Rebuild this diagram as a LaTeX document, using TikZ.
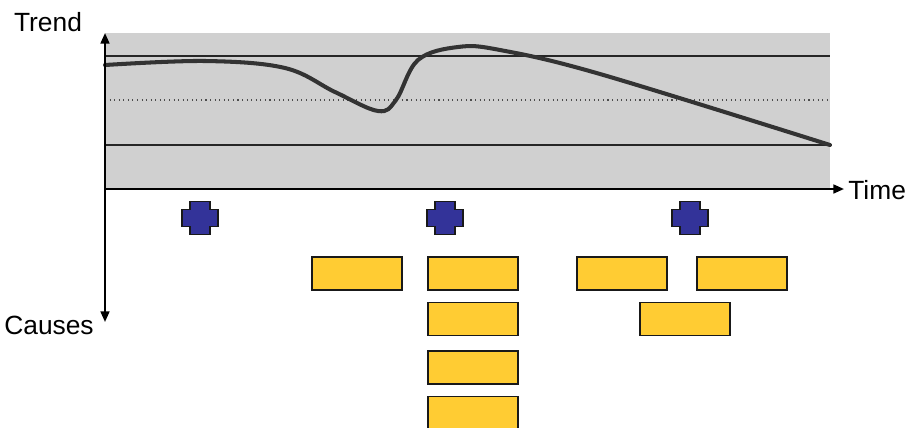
\documentclass[tikz,border=0pt]{standalone}
\usepackage{fontspec}
\setmainfont{Liberation Sans}
\usetikzlibrary{arrows.meta}

\definecolor{bandgray}{RGB}{208,208,208}
\definecolor{eventblue}{RGB}{51,51,153}
\definecolor{causeyellow}{RGB}{255,204,51}

\tikzset{
  axis/.style={line width=1.2pt, -{Triangle[length=6pt,width=5pt]}},
  trendline/.style={line width=2.3pt, black!80, line cap=round},
  cause/.style={draw=black!90, line width=0.8pt, fill=causeyellow,
    minimum width=1.8cm, minimum height=0.66cm, inner sep=0pt},
  event/.pic={
    \draw[black!90, line width=0.8pt, fill=eventblue]
      (-10,-16.5) -- (10,-16.5) -- (10,-8.5) -- (18,-8.5) -- (18,8.5)
      -- (10,8.5) -- (10,16.5) -- (-10,16.5) -- (-10,8.5) -- (-18,8.5)
      -- (-18,-8.5) -- (-10,-8.5) -- cycle;
  },
  lbl/.style={font=\fontsize{15}{18}\selectfont, inner sep=0pt}
}

\begin{document}
\begin{tikzpicture}[x=0.02cm, y=-0.02cm]
  \useasboundingbox (0,0) rectangle (906,427);

  % Band behind the trend
  \fill[bandgray] (105,33) rectangle (830,189);
  \draw[black!85, line width=0.6pt] (105,56) -- (830,56);
  \draw[black!70, line width=0.6pt, dotted] (105,100) -- (830,100);
  \draw[black!85, line width=0.6pt] (105,145) -- (830,145);

  % Trend curve
  \draw[trendline] plot[smooth, tension=0.6] coordinates {
    (105,65) (205,61) (285,68) (335,92) (378,111) (396,100)
    (418,60) (458,47) (500,50) (600,74) (830,145)};

  % Axes
  \coordinate (origin) at (105,189);
  \coordinate (trendtip) at (105,33);
  \coordinate (causetip) at (105,322);
  \coordinate (timetip) at (844,189);
  \draw[axis] (origin) -- (trendtip);
  \draw[axis] (origin) -- (causetip);
  \draw[axis] (origin) -- (timetip);

  \node[lbl] (trend) at (48,22) {Trend};
  \node[lbl, anchor=west] (time) at (848,190) {Time};
  \node[lbl] (causes) at (49,325) {Causes};

  % Events
  \pic at (200,218) {event};
  \pic at (445,218) {event};
  \pic at (690,218) {event};

  % Causes
  \node[cause] (c1) at (357,273.5) {};
  \node[cause] (c2) at (473,273.5) {};
  \node[cause] (c3) at (473,319) {};
  \node[cause] (c4) at (473,367.5) {};
  \node[cause] (c5) at (473,413) {};
  \node[cause] (c6) at (622,273.5) {};
  \node[cause] (c7) at (742,273.5) {};
  \node[cause] (c8) at (685,319) {};
\end{tikzpicture}
\end{document}
